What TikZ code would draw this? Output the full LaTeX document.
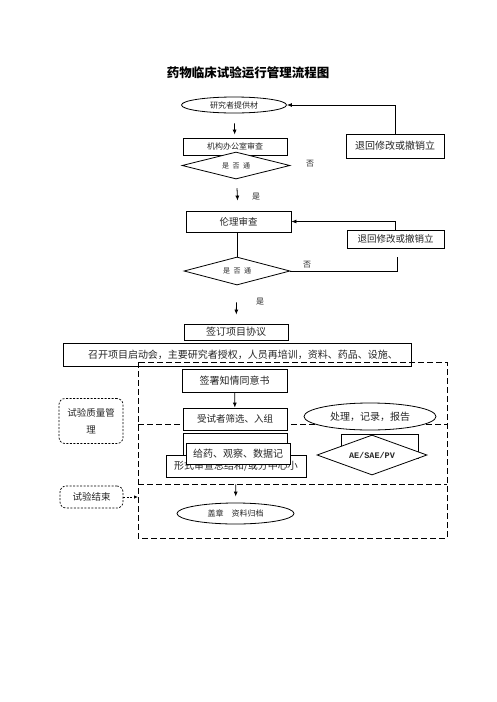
\documentclass[tikz,border=0pt]{standalone}
\usepackage{fontspec}
\setmainfont{Noto Sans CJK SC}
\newfontfamily\aefont{Liberation Mono}
\usepackage{tikz}
\usetikzlibrary{arrows.meta,positioning,shapes.geometric,calc}
\tikzset{
fcbox/.style={rectangle,draw,fill=white,line width=0.8pt,align=center,inner sep=1pt},
fcterm/.style={ellipse,draw,fill=white,line width=0.8pt,align=center,inner sep=0pt},
fcdec/.style={diamond,draw,fill=white,aspect=4,align=center,inner sep=0pt,line width=0.8pt},
fcside/.style={rectangle,rounded corners=6pt,draw,dash pattern=on 2pt off 1.5pt,line width=0.7pt,align=center,inner sep=1pt},
fczone/.style={dash pattern=on 6pt off 3pt,line width=0.8pt},
fcline/.style={line width=0.8pt},
fcarr/.style={-{Latex[length=5pt,width=4pt]},line width=0.8pt},
fcdasharr/.style={-{Latex[length=4pt,width=3.5pt]},dash pattern=on 2pt off 1.5pt,line width=0.8pt},
fclabel/.style={font=\fontsize{8}{9}\selectfont,inner sep=0pt},
fctiny/.style={font=\fontsize{8}{9}\selectfont},
fcsmall/.style={font=\fontsize{9.5}{11}\selectfont}
}

\begin{document}
\begin{tikzpicture}[
x=1pt,
y=-1pt,
every node/.style={font=\fontsize{10}{12}\selectfont,text=black!85}
]
\useasboundingbox (0,0) rectangle (496,702);
\node[font=\fontsize{12.5}{14}\selectfont\bfseries,text=black]
  (title) at (248,73) {药物临床试验运行管理流程图};
% application and office review
\node[fcterm,fctiny,minimum width=105pt,minimum height=16pt]
  (submit) at (234,105) {研究者提供材};
\node[fcbox,fctiny,minimum width=104pt,minimum height=17pt]
  (office) at (235,146.5) {\raisebox{-3pt}{机构办公室审查}};
\node[fcdec,font=\fontsize{7}{8}\selectfont,minimum width=108pt,minimum height=27pt]
  (check1) at (236,165.5) {是\enspace 否\enspace 通};
\node[fclabel] (no1) at (310,164) {否};
\node[fcbox,minimum width=98pt,minimum height=24pt]
  (return1) at (395,146) {退回修改或撤销立};
% ethics review
\node[fcbox,fcsmall,minimum width=105pt,minimum height=21pt]
  (ethics) at (238.5,221.5) {伦理审查};
\node[fcbox,fcsmall,minimum width=97pt,minimum height=18pt]
  (return2) at (395.5,239) {退回修改或撤销立};
\node[fcdec,font=\fontsize{7}{8}\selectfont,minimum width=106pt,minimum height=28pt]
  (check2) at (237,271) {是\enspace 否\enspace 通};
\node[fclabel] (no2) at (307,265) {否};
\coordinate (r2end) at (397,257);
\node[fclabel] (yes1) at (256,197) {是};
\node[fclabel] (yes2) at (260,302) {是};
% agreement and start-up
\node[fcbox,minimum width=104pt,minimum height=16pt]
  (agree) at (236,332) {签订项目协议};
\node[rectangle,draw,line width=0.8pt,minimum width=348pt,minimum height=23pt,inner sep=1pt]
  (kickoff) at (237,354.5) {\hspace*{12pt}召开项目启动会，主要研究者授权，人员再培训，资料、药品、设施、};
% trial zones
\draw[fczone] (138,362) rectangle (447,538);
\draw[fczone] (138,424) -- (447,424);
\draw[fczone] (138,484) -- (447,484);
\coordinate (zonein) at (138,497);
% trial conduct
\node[fcbox,minimum width=105pt,minimum height=23pt]
  (consent) at (234.5,380.5) {签署知情同意书};
\node[fcbox,fcsmall,minimum width=104pt,minimum height=22pt]
  (screen) at (235,419) {\raisebox{-3pt}{受试者筛选、入组}};
\node[fcbox,minimum width=104pt,minimum height=22pt]
  (blank) at (235,444) {};
\node[fcbox,minimum width=140pt,minimum height=22pt]
  (summary) at (236,466) {\raisebox{-4pt}{形式审查总结和/或分中心小}};
\node[fcbox,minimum width=104pt,minimum height=21pt]
  (dosing) at (238,453.5) {给药、观察、数据记};
\node[fcterm,minimum width=132pt,minimum height=27pt]
  (handle) at (370,416.5) {处理，记录，报告};
\node[fcbox,minimum width=77pt,minimum height=24pt]
  (aeback) at (379.5,446) {};
\node[fcdec,font=\fontsize{8.5}{10}\aefont\bfseries,minimum width=110pt,minimum height=40pt]
  (ae) at (372,455) {AE/SAE/PV};
\node[fcterm,fctiny,minimum width=117pt,minimum height=21pt]
  (archive) at (235.5,513.5) {盖章\quad 资料归档};
% side labels
\node[fcside,fcsmall,minimum width=64pt,minimum height=45pt,
  font=\fontsize{9.5}{17}\selectfont]
  (quality) at (91,421) {试验质量管\\理};
\node[fcside,fcsmall,minimum width=63pt,minimum height=22pt]
  (finish) at (91.5,497) {试验结束};
% connectors
\draw[fcarr,shorten <=10pt,shorten >=3pt] (submit) -- (office);
\draw[fcarr] (return1.north) |- (submit.east);
\draw[fcarr,shorten <=9pt,shorten >=10pt] (check1) -- (ethics);
\draw[fcarr] (return2.north) |- (ethics.east);
\draw[fcline] (check2.north |- ethics.south) -- (check2.north);
\draw[fcline] (check2.east) -| (r2end);
\draw[fcarr,shorten <=17pt,shorten >=9pt] (check2) -- (agree);
\draw[fcarr] (consent) -- (screen);
\draw[fcarr,shorten <=7pt,shorten >=6pt] (summary) -- (archive);
\draw[fcdasharr] (finish.east) -- (zonein);
\end{tikzpicture}
\end{document}
